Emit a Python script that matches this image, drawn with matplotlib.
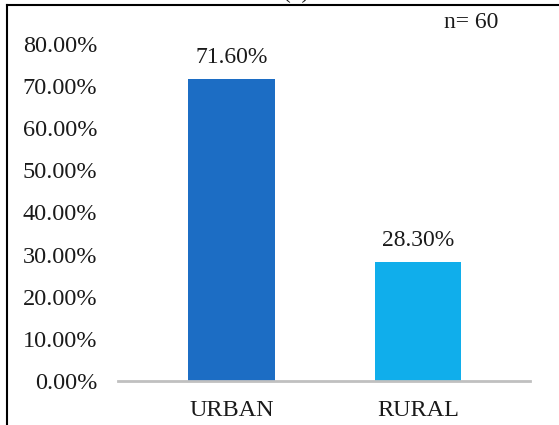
import matplotlib
matplotlib.use("Agg")
import matplotlib.pyplot as plt
from matplotlib.lines import Line2D
from matplotlib.ticker import FuncFormatter

categories = ["URBAN", "RURAL"]
values = [0.716, 0.283]
value_labels = ["71.60%", "28.30%"]
colors = ["#1c6dc4", "#10aeeb"]
yticks = [0.0, 0.1, 0.2, 0.3, 0.4, 0.5, 0.6, 0.7, 0.8]

W, H = 559, 425
plt.rcParams['font.family'] = ['Liberation Serif', 'DejaVu Serif']
fig = plt.figure(figsize=(W / 100, H / 100), dpi=100)
ax = fig.add_axes([118 / W, (H - 381) / H, (530 - 118) / W, (381 - 44) / H])

x = list(range(len(categories)))
bars = ax.bar(x, values, width=0.466, color=colors, zorder=2)
ax.set_xlim(-0.6086, 1.6005)
ax.set_ylim(0, 0.8)
ax.set_yticks(yticks)
ax.yaxis.set_major_formatter(FuncFormatter(lambda v, p: f"{v*100:.2f}%"))
ax.set_xticks(x)
ax.set_xticklabels(categories)
ax.tick_params(axis='both', length=0, labelsize=17.5, colors='#1a1a1a')
ax.tick_params(axis='y', pad=15)
ax.tick_params(axis='x', pad=14)
for s in ['top', 'right', 'left']:
    ax.spines[s].set_visible(False)
ax.spines['bottom'].set_color('#c0c0c0')
ax.spines['bottom'].set_linewidth(2)

for b, lab in zip(bars, value_labels):
    ax.annotate(lab, (b.get_x() + b.get_width() / 2, b.get_height()),
                xytext=(0, 8), textcoords='offset points', ha='center', va='bottom',
                fontsize=17, color='#1a1a1a')

fig.text(471 / W, 1 - 23 / H, "n= 60", ha='center', va='center', fontsize=17, color='#1a1a1a')
fig.text(296 / W, 1 + 8 / H, "(a)", ha='center', va='center', fontsize=17, color='#1a1a1a')

fig.add_artist(Line2D([7 / W, 7 / W], [0, 1 - 5 / H], color='black', lw=1.5, transform=fig.transFigure))
fig.add_artist(Line2D([7 / W, 1], [1 - 5 / H, 1 - 5 / H], color='black', lw=1.5, transform=fig.transFigure))

fig.savefig("out.png", dpi=100)
